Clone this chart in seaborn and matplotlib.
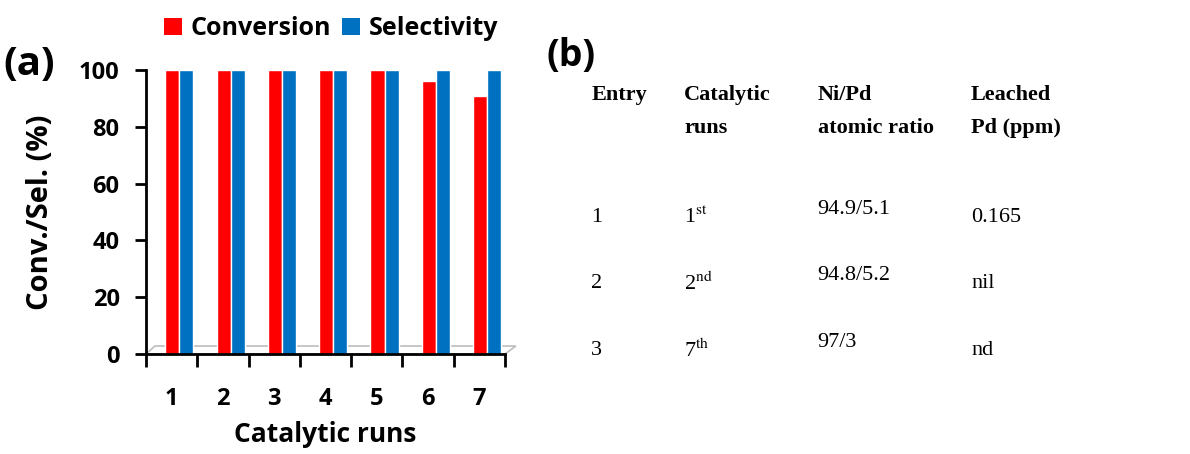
import numpy as np
import pandas as pd
import matplotlib
matplotlib.use("Agg")
import matplotlib.pyplot as plt
from matplotlib.patches import Patch, Polygon
import seaborn as sns

# chart data
runs = ["1", "2", "3", "4", "5", "6", "7"]
conversion = [100, 100, 100, 100, 100, 96, 91]
selectivity = [100, 100, 100, 100, 100, 100, 100]
series_names = ["Conversion", "Selectivity"]
colors = ["#FF0000", "#0070C0"]
yticks = [0, 20, 40, 60, 80, 100]

# table data
table_header = [["Entry", ""], ["Catalytic", "runs"], ["Ni/Pd", "atomic ratio"], ["Leached", "Pd (ppm)"]]
entries = ["1", "2", "3"]
run_num = ["1", "2", "7"]
run_sup = ["st", "nd", "th"]
ratios = ["94.9/5.1", "94.8/5.2", "97/3"]
leached = ["0.165", "nil", "nd"]

SANS = "Open Sans"
SERIF = "Liberation Serif"
FS = 17
DEPTH = 0.15  # fake 3d offset of the bars against the axis frame

sns.set_style("ticks")
plt.rcParams["font.family"] = [SANS, "DejaVu Sans"]
plt.rcParams["mathtext.fontset"] = "stix"
plt.rcParams["text.color"] = "black"

df = pd.DataFrame({
    "run": runs * 2,
    "value": conversion + selectivity,
    "series": [series_names[0]] * len(runs) + [series_names[1]] * len(runs),
})

fig = plt.figure(figsize=(11.9, 4.54), dpi=100)
ax = fig.add_axes([0.1227, 0.2203, 0.3017, 0.6256])

sns.barplot(data=df, x="run", y="value", hue="series", palette=colors,
            width=0.55, gap=0, ax=ax, legend=False, saturation=1)

n = len(runs)
ax.set_ylim(0, 100)
ax.set_xlim(-0.5 - DEPTH, n - 0.5 - DEPTH)
ax.set_yticks(yticks)
ax.set_xticks(np.arange(n) - DEPTH, runs)
ax.set_xlabel("Catalytic runs", fontsize=19, fontweight="bold", labelpad=7, color="black")
ax.set_ylabel("Conv./Sel. (%)", fontsize=21, fontweight="bold", labelpad=17, color="black")
for lab in ax.get_xticklabels() + ax.get_yticklabels():
    lab.set_fontweight("bold")
    lab.set_fontsize(FS)
ax.tick_params(axis="x", which="major", length=0, pad=24, labelcolor="black")
ax.set_xticks(np.arange(n + 1) - 0.5 - DEPTH, minor=True)
ax.tick_params(axis="x", which="minor", length=9, width=2, direction="out", color="black")
ax.tick_params(axis="y", length=8, width=2, direction="out", pad=11, color="black",
               labelcolor="black")
sns.despine(ax=ax)
for s in ["left", "bottom"]:
    ax.spines[s].set_linewidth(2)
    ax.spines[s].set_color("black")

# grey floor of the 3d chart
floor = Polygon([(0, 0), (0.025, 0.028), (1.03, 0.028), (1.0, 0)], closed=True,
                transform=ax.transAxes, facecolor="none", edgecolor="#BDBDBD",
                linewidth=1.2, clip_on=False, zorder=0.5)
ax.add_patch(floor)

# legend
handles = [Patch(facecolor=c, edgecolor="none") for c in colors]
fig.legend(handles, series_names, loc="upper left", bbox_to_anchor=(0.119, 1.014),
           ncol=2, frameon=False, handlelength=0.7, handleheight=0.7,
           handletextpad=0.35, columnspacing=0.45,
           prop={"family": SANS, "weight": "bold", "size": 18})

fig.text(0.003, 0.815, "(a)", fontsize=29, fontweight="bold", ha="left", va="bottom")
fig.text(0.459, 0.835, "(b)", fontsize=27, fontweight="bold", ha="left", va="bottom")

# table (b)
col_x = [0.497, 0.575, 0.687, 0.816]
for x, (l1, l2) in zip(col_x, table_header):
    fig.text(x, 0.79, l1, family=SERIF, fontweight="bold", fontsize=16, va="center")
    if l2:
        fig.text(x, 0.717, l2, family=SERIF, fontweight="bold", fontsize=16, va="center")

row_y = [0.52, 0.375, 0.228]
for i, y in enumerate(row_y):
    fig.text(col_x[0], y, entries[i], family=SERIF, fontsize=16, va="center")
    fig.text(col_x[1], y, run_num[i] + r"$^{\mathrm{" + run_sup[i] + "}}$",
             family=SERIF, fontsize=16, va="center")
    fig.text(col_x[2], y + 0.018, ratios[i], family=SERIF, fontsize=16, va="center")
    fig.text(col_x[3], y, leached[i], family=SERIF, fontsize=16, va="center")

fig.savefig("out.png", dpi=100, facecolor="white")
